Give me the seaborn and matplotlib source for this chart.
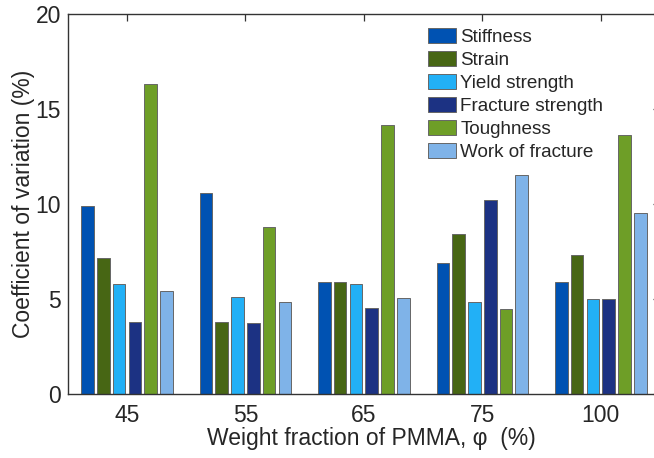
import matplotlib
matplotlib.use("Agg")
import matplotlib.pyplot as plt
import seaborn as sns
import pandas as pd

categories = ["45", "55", "65", "75", "100"]
series = ["Stiffness", "Strain", "Yield strength", "Fracture strength", "Toughness", "Work of fracture"]
stiffness = [9.89, 10.59, 5.89, 6.89, 5.92]
strain = [7.15, 3.80, 5.92, 8.42, 7.33]
yield_strength = [5.79, 5.10, 5.82, 4.86, 5.00]
fracture_strength = [3.79, 3.75, 4.54, 10.24, 5.00]
toughness = [16.31, 8.78, 14.15, 4.47, 13.64]
work_of_fracture = [5.45, 4.84, 5.05, 11.52, 9.54]
colors = ["#0052B2", "#476614", "#22B0F6", "#1C3283", "#6E9E27", "#7FB3E8"]

values = [stiffness, strain, yield_strength, fracture_strength, toughness, work_of_fracture]
rows = []
for s, vals in zip(series, values):
    for c, v in zip(categories, vals):
        rows.append({"phi": c, "series": s, "cv": v})
df = pd.DataFrame(rows)

sns.set_theme(style="white")
plt.rcParams["font.family"] = ["Liberation Sans", "DejaVu Sans"]

fig = plt.figure(figsize=(6.54, 4.58), dpi=100)
ax = fig.add_axes([67.7 / 654, 1 - 394.3 / 458, (660 - 67.7) / 654, (394.3 - 14) / 458])

sns.barplot(data=df, x="phi", y="cv", hue="series", order=categories, hue_order=series,
            palette=colors, width=0.8, gap=0.2, edgecolor="#666666", linewidth=0.7,
            errorbar=None, ax=ax, saturation=1)

ax.set_xlim(-0.5, 4.5)
ax.set_ylim(0, 20)
ax.set_yticks([0, 5, 10, 15, 20])
ax.tick_params(axis="both", direction="in", length=5, width=0.9, color="#333333",
               labelsize=16.5, top=True, right=True)
ax.tick_params(axis="x", pad=7)
ax.tick_params(axis="y", pad=5)
for sp in ax.spines.values():
    sp.set_visible(True)
    sp.set_color("#333333")
    sp.set_linewidth(1.0)

ax.set_xlabel("Weight fraction of PMMA, φ  (%)", fontsize=16.5, labelpad=2)
ax.xaxis.set_label_coords(0.512, -0.085)
ax.set_ylabel("Coefficient of variation (%)", fontsize=16.5, labelpad=0.5)

handles, labels = ax.get_legend_handles_labels()
ax.legend(handles, labels, loc="upper left", bbox_to_anchor=(427.5 / 654, 1 - 28 / 458),
          bbox_transform=fig.transFigure, frameon=False, fontsize=13.6,
          handlelength=1.53, handleheight=0.85, handletextpad=0.2, labelspacing=0.26,
          borderpad=0, borderaxespad=0)

fig.savefig("out.png", dpi=100)
